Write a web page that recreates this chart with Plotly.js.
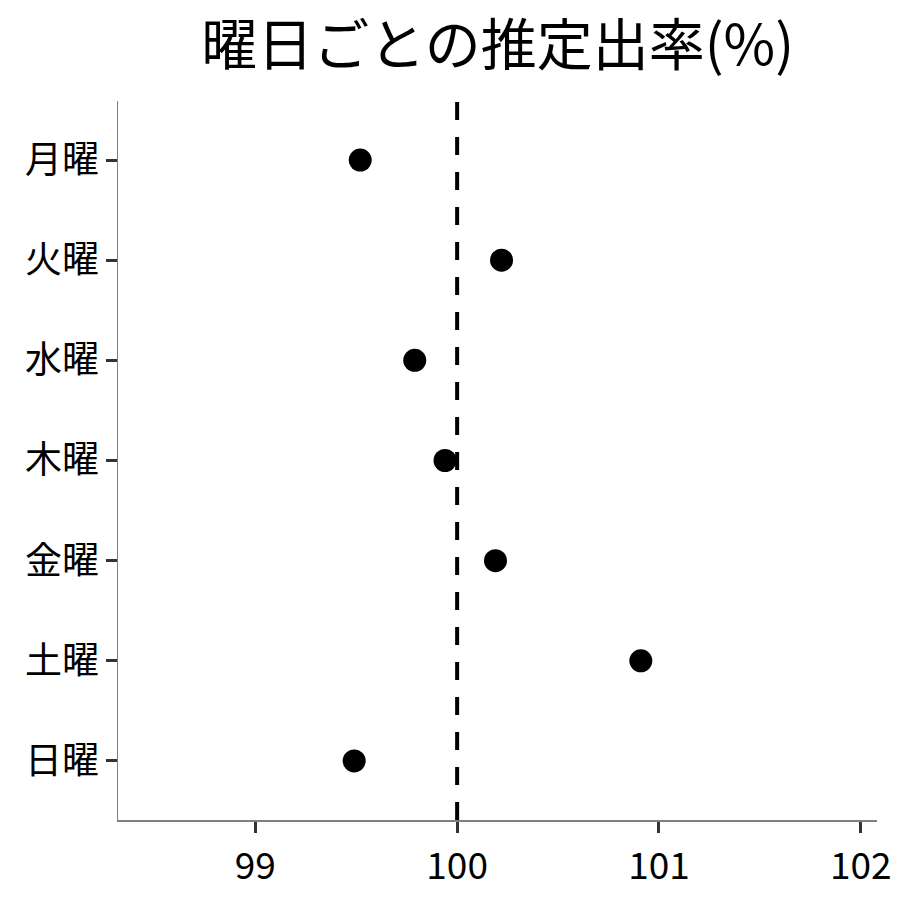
<!DOCTYPE html>
<html>
<head>
<meta charset="utf-8">
<script src="https://cdn.plot.ly/plotly-3.0.1.min.js"></script>
<style>html,body{margin:0;padding:0;background:#fff;}</style>
</head>
<body>
<div id="chart" style="width:900px;height:900px;"></div>
<script>
const days = ['月曜', '火曜', '水曜', '木曜', '金曜', '土曜', '日曜'];
const rates = [99.52, 100.22, 99.79, 99.94, 100.19, 100.91, 99.49];
const refValue = 100;
const xTicks = [99, 100, 101, 102];
const titleText = '曜日ごとの推定出率(%)';

const font = '"Noto Sans CJK JP", "Noto Sans", sans-serif';

const trace = {
  type: 'scatter',
  mode: 'markers',
  x: rates,
  y: days,
  marker: {color: '#000000', size: 23},
  hoverinfo: 'x+y'
};

const layout = {
  width: 900,
  height: 900,
  paper_bgcolor: '#ffffff',
  plot_bgcolor: '#ffffff',
  margin: {l: 118, r: 23, t: 101, b: 80},
  showlegend: false,
  font: {family: font, color: '#000000'},
  title: {
    text: titleText,
    font: {family: font, size: 56, color: '#000000'},
    x: 0.553, xanchor: 'center',
    y: 0.95, yanchor: 'middle'
  },
  xaxis: {
    range: [98.32, 102.08],
    tickvals: xTicks,
    ticktext: xTicks.map(String),
    showgrid: false,
    zeroline: false,
    showline: true,
    linecolor: '#7f7f7f',
    linewidth: 1.5,
    ticks: 'outside',
    ticklen: 11,
    tickwidth: 3,
    tickcolor: '#333333',
    tickfont: {family: font, size: 37, color: '#000000'},
    ticklabelstandoff: 2
  },
  yaxis: {
    type: 'category',
    categoryorder: 'array',
    categoryarray: days,
    range: [6.59, -0.59],
    showgrid: false,
    zeroline: false,
    showline: true,
    linecolor: '#7f7f7f',
    linewidth: 1.5,
    ticks: 'outside',
    ticklen: 11,
    tickwidth: 3,
    tickcolor: '#333333',
    tickfont: {family: font, size: 37, color: '#000000'},
    ticklabelstandoff: -1
  },
  shapes: [{
    type: 'line',
    xref: 'x', yref: 'paper',
    x0: refValue, x1: refValue, y0: 0, y1: 1,
    line: {color: '#000000', width: 4, dash: '18px,17px'},
    layer: 'below'
  }]
};

Plotly.newPlot('chart', [trace], layout, {displayModeBar: false, staticPlot: true});
</script>
</body>
</html>
